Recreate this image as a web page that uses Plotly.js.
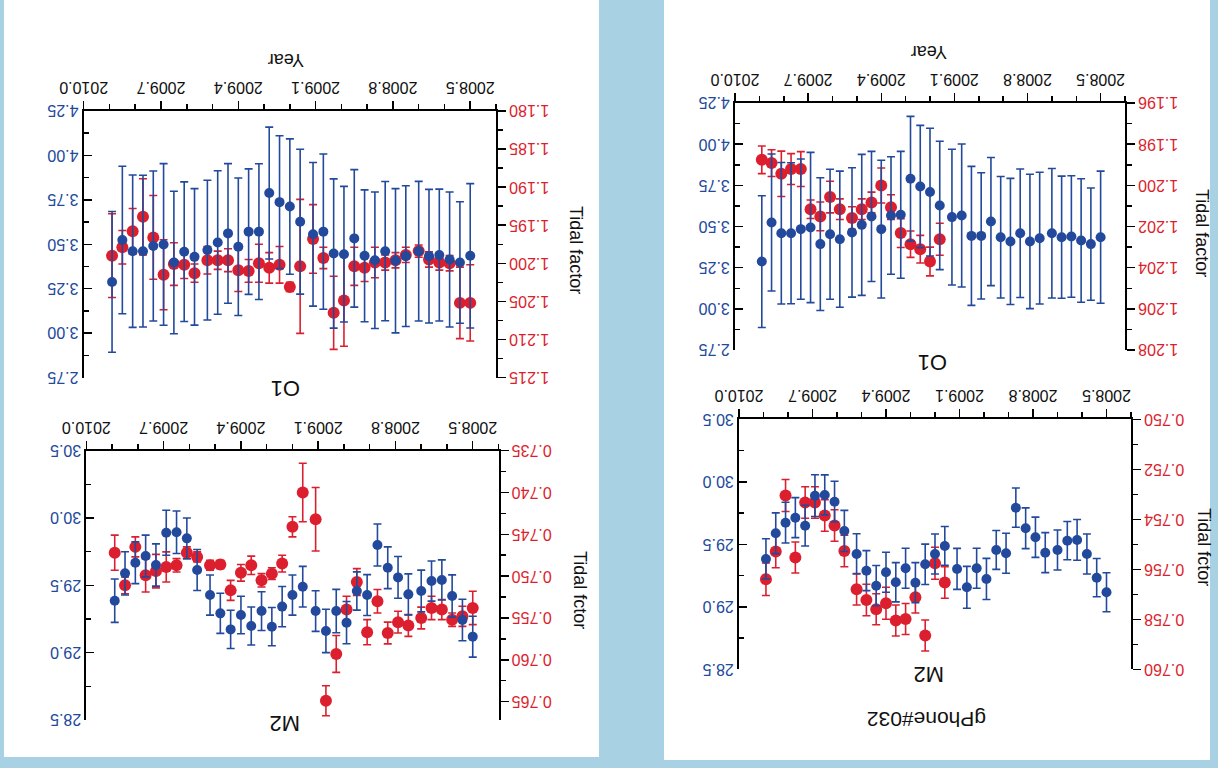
<!DOCTYPE html>
<html>
<head>
<meta charset="utf-8">
<script src="https://cdn.plot.ly/plotly-3.0.1.min.js"></script>
<style>
  html, body { margin: 0; padding: 0; background: #a9d1e4; }
  #chart { width: 1218px; height: 768px; transform: rotate(180deg); transform-origin: 50% 50%; }
</style>
</head>
<body>
<div id="chart"></div>
<script>
// ---------- data (time in decimal years) ----------
const years = [2008.50, 2008.54, 2008.58, 2008.62, 2008.66, 2008.70, 2008.75, 2008.79, 2008.83, 2008.87,
               2008.91, 2008.95, 2008.99, 2009.03, 2009.07, 2009.11, 2009.16, 2009.20, 2009.24, 2009.28,
               2009.32, 2009.36, 2009.40, 2009.44, 2009.48, 2009.52, 2009.57, 2009.61, 2009.65, 2009.69,
               2009.73, 2009.77, 2009.81, 2009.85, 2009.89];

const xTickLabels = ['2008.5', '2008.8', '2009.1', '2009.4', '2009.7', '2010.0'];
const N = null;

// gPhone#032 panel, M2 (blue = right axis, red = tidal factor)
const gM2Blue = [29.116, 29.233, 29.423, 29.535, 29.529, 29.455, 29.433, 29.556, 29.628, 29.793,
                 29.428, 29.455, 29.223, 29.308, 29.156, 29.303, 29.487, 29.423, 29.340, 29.193,
                 29.308, 29.196, 29.276, 29.169, 29.289, 29.423, 29.607, 29.841, 29.895, 29.889,
                 29.649, 29.713, 29.673, 29.588, 29.383];
const gM2BlueErr = [0.156, 0.153, 0.160, 0.163, 0.153, 0.160, 0.160, 0.161, 0.163, 0.157,
                    0.160, 0.156, 0.164, 0.160, 0.167, 0.164, 0.155, 0.160, 0.161, 0.160,
                    0.160, 0.157, 0.160, 0.161, 0.160, 0.161, 0.164, 0.163, 0.160, 0.167,
                    0.163, 0.160, 0.163, 0.163, 0.161];
const gM2Red = [N, N, N, N, N, N, N, N, N, N, N, N, N, N, N, N,
                0.75653, 0.75576, 0.75865, 0.75712, 0.75799, 0.75805, 0.75736, 0.75760, 0.75723, 0.75680,
                0.75527, 0.75425, 0.75385, 0.75333, 0.75333, 0.75553, 0.75305, 0.75529, 0.75640];
const gM2RedErr = [N, N, N, N, N, N, N, N, N, N, N, N, N, N, N, N,
                   0.00063, 0.00064, 0.00062, 0.00063, 0.00062, 0.00062, 0.00064, 0.00062, 0.00063, 0.00063,
                   0.00063, 0.00063, 0.00063, 0.00063, 0.00063, 0.00062, 0.00064, 0.00065, 0.00065];

// gPhone#032 panel, O1
const gO1Blue = [3.435, 3.393, 3.415, 3.439, 3.435, 3.459, 3.429, 3.409, 3.459, 3.409,
                 3.435, 3.530, 3.443, 3.443, 3.567, 3.557, 3.628, 3.709, 3.743, 3.790,
                 3.571, 3.567, 3.484, 3.561, 3.510, 3.464, 3.423, 3.453, 3.393, 3.494,
                 3.484, 3.459, 3.459, 3.524, 3.287];
const gO1BlueErr = [0.401, 0.341, 0.375, 0.369, 0.371, 0.393, 0.400, 0.408, 0.390, 0.383,
                    0.369, 0.389, 0.383, 0.422, 0.434, 0.412, 0.390, 0.388, 0.371, 0.379,
                    0.385, 0.357, 0.418, 0.395, 0.428, 0.393, 0.413, 0.395, 0.403, 0.456,
                    0.426, 0.428, 0.430, 0.416, 0.400];
const gO1Red = [N, N, N, N, N, N, N, N, N, N, N, N, N, N, N, N,
                1.20262, 1.20370, 1.20310, 1.20286, 1.20232, 1.20106, 1.20001, 1.20083, 1.20116, 1.20159,
                1.20116, 1.20057, 1.20151, 1.20116, 1.19921, 1.19921, 1.19944, 1.19892, 1.19876];
const gO1RedErr = [N, N, N, N, N, N, N, N, N, N, N, N, N, N, N, N,
                   0.00078, 0.00070, 0.00067, 0.00064, 0.00070, 0.00060, 0.00085, 0.00050, 0.00050, 0.00055,
                   0.00050, 0.00077, 0.00070, 0.00045, 0.00085, 0.00075, 0.00110, 0.00065, 0.00067];

// second panel, M2
const rM2Blue = [29.119, 29.243, 29.421, 29.540, 29.532, 29.458, 29.433, 29.559, 29.631, 29.800,
                 29.428, 29.458, 29.223, 29.309, 29.161, 29.309, 29.490, 29.428, 29.342, 29.193,
                 29.309, 29.198, 29.280, 29.173, 29.292, 29.428, 29.614, 29.849, 29.894, 29.891,
                 29.651, 29.718, 29.668, 29.589, 29.386];
const rM2BlueErr = [0.152, 0.154, 0.157, 0.149, 0.149, 0.155, 0.152, 0.155, 0.155, 0.156,
                    0.152, 0.142, 0.157, 0.161, 0.161, 0.151, 0.151, 0.149, 0.149, 0.142,
                    0.144, 0.141, 0.139, 0.142, 0.149, 0.149, 0.152, 0.151, 0.158, 0.167,
                    0.157, 0.155, 0.155, 0.161, 0.161];
const rM2Red = [0.7538, 0.7548, 0.7552, 0.7540, 0.7538, 0.7550, 0.7559, 0.7555, 0.7568, 0.7530,
                0.7567, 0.7507, 0.7540, 0.7593, 0.7649, 0.7432, 0.7400, 0.7441, 0.7485, 0.7497,
                0.7505, 0.7487, 0.7496, 0.7517, 0.7486, 0.7487, 0.7477, 0.7472, 0.7487, 0.7489,
                0.7494, 0.7499, 0.7465, 0.7511, 0.7472];
const rM2RedErr = [0.0020, 0.0012, 0.0008, 0.0012, 0.0014, 0.0013, 0.0013, 0.0013, 0.0013, 0.0014,
                   0.0015, 0.0016, 0.0016, 0.0022, 0.0018, 0.0038, 0.0035, 0.0012, 0.0010, 0.0007,
                   0.0008, 0.0011, 0.0010, 0.0012, 0.0005, 0.0006, 0.0006, 0.0007, 0.0008, 0.0018,
                   0.0020, 0.0020, 0.0012, 0.0010, 0.0021];

// second panel, O1
const rO1Blue = [3.435, 3.397, 3.414, 3.439, 3.433, 3.461, 3.433, 3.407, 3.461, 3.410,
                 3.435, 3.533, 3.444, 3.448, 3.571, 3.556, 3.627, 3.712, 3.737, 3.788,
                 3.571, 3.571, 3.486, 3.561, 3.510, 3.467, 3.429, 3.458, 3.397, 3.499,
                 3.490, 3.461, 3.461, 3.524, 3.288];
const rO1BlueErr = [0.406, 0.342, 0.380, 0.371, 0.376, 0.393, 0.396, 0.406, 0.392, 0.384,
                    0.371, 0.387, 0.382, 0.420, 0.437, 0.404, 0.408, 0.381, 0.374, 0.371,
                    0.382, 0.353, 0.387, 0.393, 0.404, 0.393, 0.384, 0.393, 0.401, 0.455,
                    0.422, 0.427, 0.429, 0.415, 0.396];
const rO1Red = [1.2052, 1.2052, 1.2000, 1.1999, 1.1995, 1.1984, 1.1989, 1.1996, 1.1999, 1.1999,
                1.2006, 1.2004, 1.2049, 1.2065, 1.1993, 1.1968, 1.2004, 1.2031, 1.2002, 1.2006,
                1.2000, 1.2010, 1.2009, 1.1996, 1.1996, 1.1996, 1.2013, 1.2002, 1.2001, 1.2015,
                1.1966, 1.1939, 1.1958, 1.1979, 1.1990];
const rO1RedErr = [0.0050, 0.0047, 0.0010, 0.0010, 0.0010, 0.0008, 0.0010, 0.0010, 0.0010, 0.0020,
                   0.0018, 0.0025, 0.0060, 0.0048, 0.0014, 0.0045, 0.0088, 0.0006, 0.0024, 0.0020,
                   0.0025, 0.0015, 0.0028, 0.0015, 0.0012, 0.0018, 0.0012, 0.0018, 0.0028, 0.0046,
                   0.0055, 0.0050, 0.0030, 0.0022, 0.0055];

// ---------- styling ----------
const RED = '#dc1f2e';
const BLUE = '#22499b';
const FONT = 'Liberation Sans, Arial, Helvetica, sans-serif';
const W = 1218, H = 768;
const px = X => X / W;
const py = Y => 1 - Y / H;

function xAxis(x0, x1, anchor) {
  return {
    domain: [px(x0), px(x1)], anchor: anchor, range: [2008.4, 2010.0],
    tickmode: 'array', tickvals: xTickLabels.map(Number), ticktext: xTickLabels,
    ticks: 'outside', ticklen: 8, tickwidth: 1.5, tickcolor: '#000',
    showline: true, linecolor: '#000', linewidth: 2, mirror: false,
    showgrid: false, zeroline: false,
    minor: {tick0: 2008.4, dtick: 0.1, ticks: 'outside', ticklen: 5, tickwidth: 1.5, tickcolor: '#000', showgrid: false},
    tickfont: {family: FONT, size: 16, color: '#111'}
  };
}
function redAxis(y0, y1, anchor, range, tick0, dtick) {
  return {
    domain: [py(y1), py(y0)], anchor: anchor, side: 'left', range: range,
    tick0: tick0, dtick: dtick, tickformat: '.3f',
    ticks: 'outside', ticklen: 8, tickwidth: 1.5, tickcolor: '#000',
    showline: true, linecolor: '#000', linewidth: 2,
    showgrid: false, zeroline: false,
    minor: {tick0: tick0, dtick: dtick / 2, ticks: 'outside', ticklen: 5, tickwidth: 1.5, tickcolor: '#000', showgrid: false},
    tickfont: {family: FONT, size: 16, color: RED}
  };
}
function blueAxis(over, anchor, range, tick0, dtick, fmt) {
  return {
    overlaying: over, anchor: anchor, side: 'right', range: range,
    tick0: tick0, dtick: dtick, tickformat: fmt,
    ticks: 'inside', ticklen: 8, tickwidth: 1.5, tickcolor: '#000',
    showline: true, linecolor: '#000', linewidth: 2,
    showgrid: false, zeroline: false,
    minor: {tick0: tick0, dtick: dtick / 2, ticks: 'inside', ticklen: 5, tickwidth: 1.5, tickcolor: '#000', showgrid: false},
    tickfont: {family: FONT, size: 16, color: BLUE}
  };
}
function redTrace(y, err, xa, ya, size) {
  return {x: years, y: y, xaxis: xa, yaxis: ya, type: 'scatter', mode: 'markers',
          marker: {color: RED, size: size}, cliponaxis: false,
          error_y: {type: 'data', array: err, visible: true, color: RED, thickness: 1.6, width: 4}};
}
function blueTrace(y, err, xa, ya) {
  return {x: years, y: y, xaxis: xa, yaxis: ya, type: 'scatter', mode: 'markers',
          marker: {color: BLUE, size: 10}, cliponaxis: false,
          error_y: {type: 'data', array: err, visible: true, color: BLUE, thickness: 1.6, width: 4}};
}

const data = [
  redTrace(gM2Red, gM2RedErr, 'x', 'y', 12),
  blueTrace(gM2Blue, gM2BlueErr, 'x', 'y2'),
  redTrace(gO1Red, gO1RedErr, 'x2', 'y3', 12),
  blueTrace(gO1Blue, gO1BlueErr, 'x2', 'y4'),
  redTrace(rM2Red, rM2RedErr, 'x3', 'y5', 12),
  blueTrace(rM2Blue, rM2BlueErr, 'x3', 'y6'),
  redTrace(rO1Red, rO1RedErr, 'x4', 'y7', 12),
  blueTrace(rO1Blue, rO1BlueErr, 'x4', 'y8')
];

function ann(text, X, Y, size, angle) {
  return {text: text, x: px(X), y: py(Y), xref: 'paper', yref: 'paper', showarrow: false,
          xanchor: 'center', yanchor: 'middle', textangle: angle || 0,
          font: {family: FONT, size: size, color: '#111'}};
}

const layout = {
  width: W, height: H, margin: {l: 0, r: 0, t: 0, b: 0},
  paper_bgcolor: '#a9d1e4', plot_bgcolor: 'rgba(0,0,0,0)', showlegend: false,
  xaxis:  xAxis(87, 479, 'y'),
  yaxis:  redAxis(98.7, 348.7, 'x', [0.750, 0.760], 0.750, 0.002),
  yaxis2: blueAxis('y', 'x', [30.5, 28.5], 28.5, 0.5, '.1f'),
  xaxis2: xAxis(93, 483, 'y3'),
  yaxis3: redAxis(418, 665, 'x2', [1.196, 1.208], 1.196, 0.002),
  yaxis4: blueAxis('y3', 'x2', [4.25, 2.75], 2.75, 0.25, '.2f'),
  xaxis3: xAxis(719.5, 1131.6, 'y5'),
  yaxis5: redAxis(48, 317.3, 'x3', [0.735, 0.7672], 0.735, 0.005),
  yaxis6: blueAxis('y5', 'x3', [30.5, 28.5], 28.5, 0.5, '.1f'),
  xaxis4: xAxis(722, 1134.3, 'y7'),
  yaxis7: redAxis(390.5, 657, 'x4', [1.180, 1.215], 1.180, 0.005),
  yaxis8: blueAxis('y7', 'x4', [4.25, 2.75], 2.75, 0.25, '.2f'),
  shapes: [
    {type: 'rect', xref: 'paper', yref: 'paper', x0: px(8), x1: px(554), y0: py(768), y1: py(8),
     fillcolor: '#ffffff', line: {width: 0}, layer: 'below'},
    {type: 'rect', xref: 'paper', yref: 'paper', x0: px(619), x1: px(1214), y0: py(768), y1: py(11),
     fillcolor: '#ffffff', line: {width: 0}, layer: 'below'}
  ],
  annotations: [
    ann('gPhone#032', 291, 48, 21),
    ann('M2', 289, 93, 22),
    ann('Tidal fctor', 14, 221, 18, -90),
    ann('O1', 285.5, 405, 22),
    ann('Tidal factor', 16, 535, 18, -90),
    ann('Year', 289, 716, 18),
    ann('M2', 934, 44.7, 22),
    ann('Tidal fctor', 638, 178, 18, -90),
    ann('O1', 932, 379.7, 22),
    ann('Tidal factor', 642, 518, 18, -90),
    ann('Year', 932, 708, 18)
  ]
};

Plotly.newPlot('chart', data, layout, {displayModeBar: false, staticPlot: true});
</script>
</body>
</html>
